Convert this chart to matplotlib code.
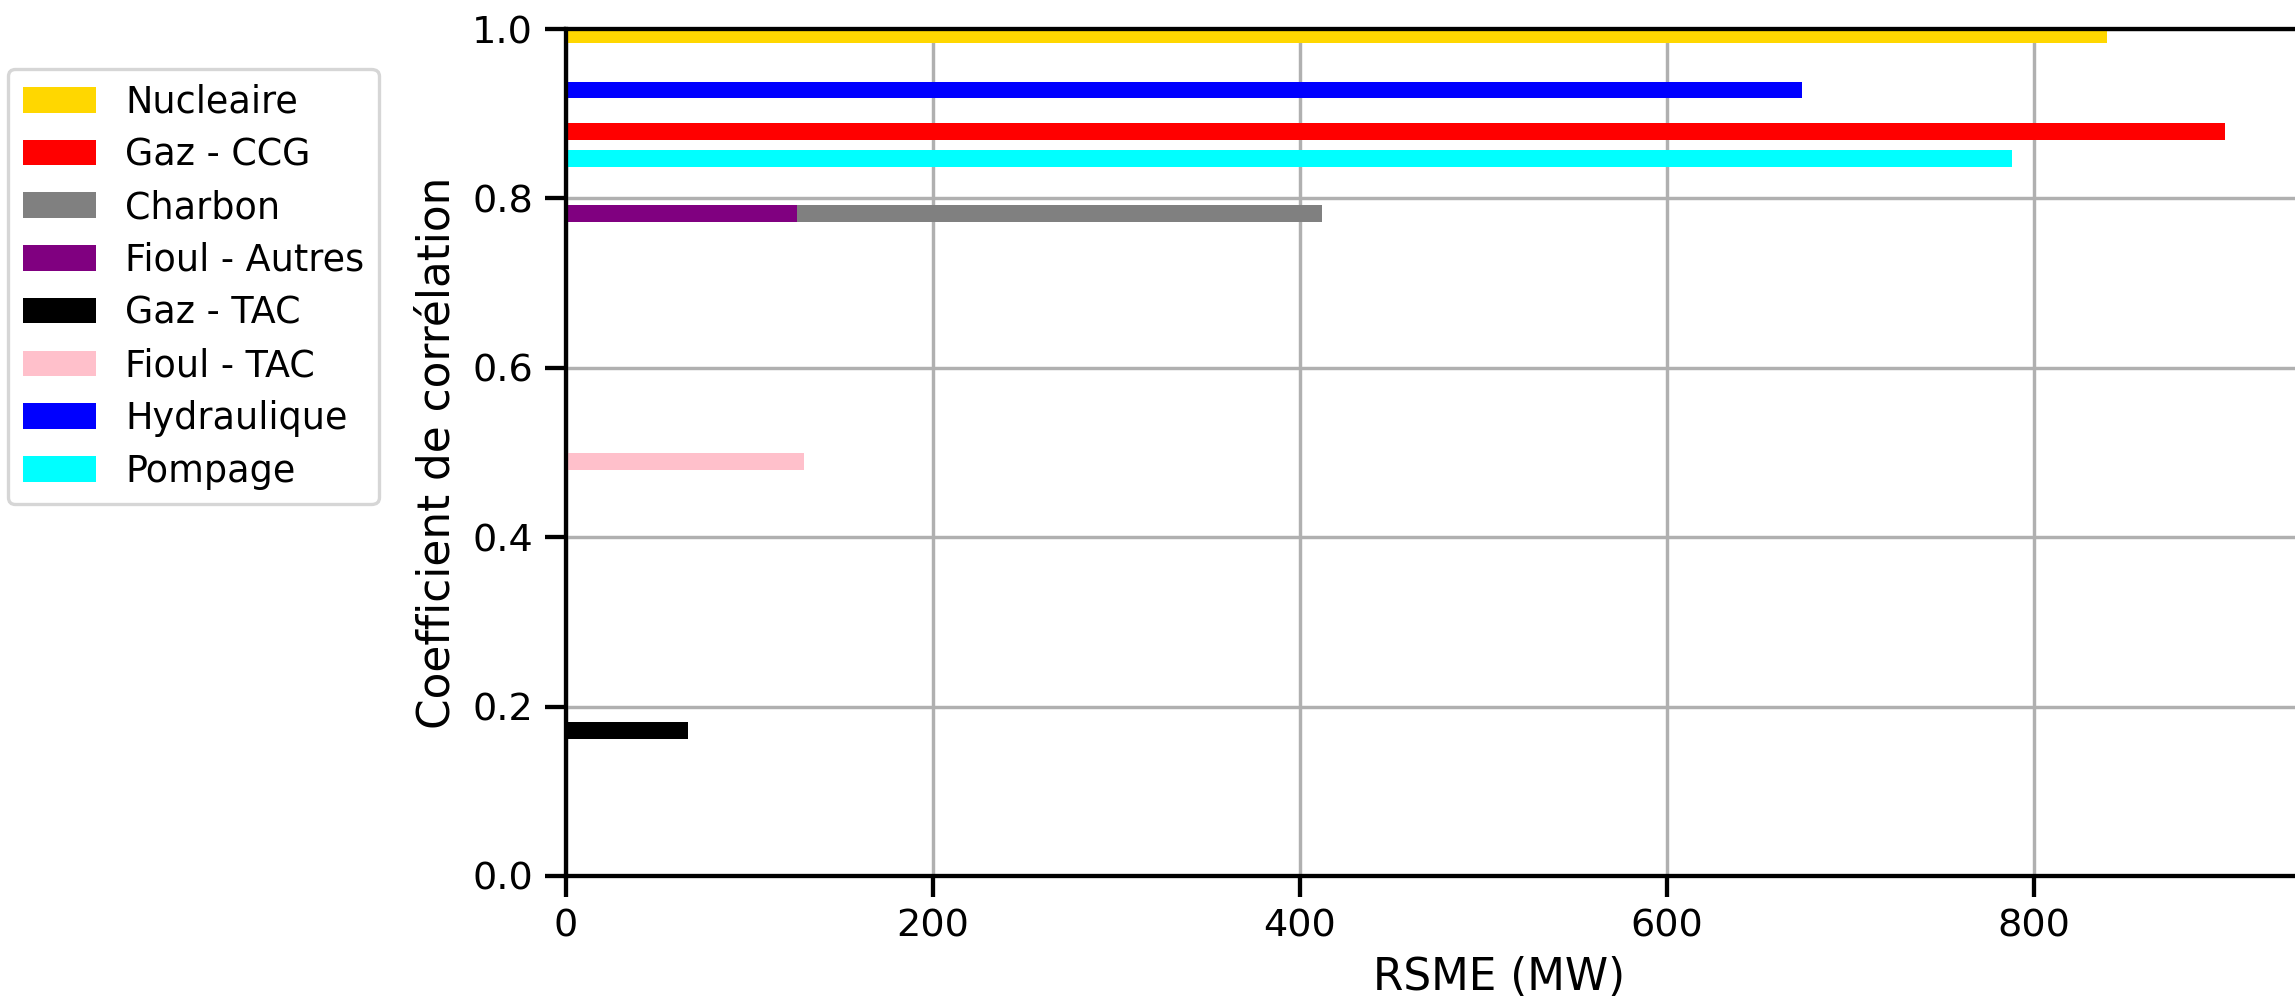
import matplotlib
matplotlib.use("Agg")
import matplotlib.pyplot as plt

# Data
names = ['Nucleaire', 'Gaz - CCG', 'Charbon', 'Fioul - Autres',
         'Gaz - TAC', 'Fioul - TAC', 'Hydraulique', 'Pompage']
corr = [0.993, 0.879, 0.782, 0.782, 0.172, 0.489, 0.928, 0.847]
rmse = [840, 904, 412, 126, 67, 130, 674, 788]
colors = ['gold', 'red', 'grey', 'purple', 'black', 'pink', 'blue', 'cyan']
x_ticks = [0, 200, 400, 600, 800]
y_ticks = [0.0, 0.2, 0.4, 0.6, 0.8, 1.0]

plt.rcParams['font.family'] = ['DejaVu Sans']

W, H = 2295, 1001
fig = plt.figure(figsize=(W / 100, H / 100), dpi=100)
left, right, bottom, top = 565.5, 2432, 876, 29
ax = fig.add_axes([left / W, 1 - bottom / H, (right - left) / W, (bottom - top) / H])

for n, c, r, col in zip(names, corr, rmse, colors):
    ax.barh(c, r, height=0.02, color=col, label=n, zorder=3)

ax.set_xlim(0, 1017)
ax.set_ylim(0, 1.0)
ax.set_xticks(x_ticks)
ax.set_yticks(y_ticks)
ax.set_yticklabels([f"{v:.1f}" for v in y_ticks])

ax.grid(True, color='#b0b0b0', linewidth=2.45, zorder=0)
ax.set_axisbelow(True)
for s in ax.spines.values():
    s.set_linewidth(3.1)
    s.set_color('black')
    s.set_zorder(4)
ax.tick_params(axis='both', which='major', length=14.9, width=3.1,
               labelsize=27.5, pad=8.5, color='black')

ax.set_xlabel('RSME (MW)', fontsize=31.5, labelpad=8)
ax.set_ylabel('Coefficient de corrélation', fontsize=31.5, labelpad=10)

leg = ax.legend(loc='upper left', bbox_to_anchor=(8 / W, 1 - 69 / H),
                bbox_transform=fig.transFigure, borderaxespad=0,
                fontsize=26.3, labelspacing=0.43, framealpha=0.8,
                edgecolor='0.8', fancybox=True)
leg.get_frame().set_linewidth(2.4)

fig.savefig('out.png', dpi=100)
